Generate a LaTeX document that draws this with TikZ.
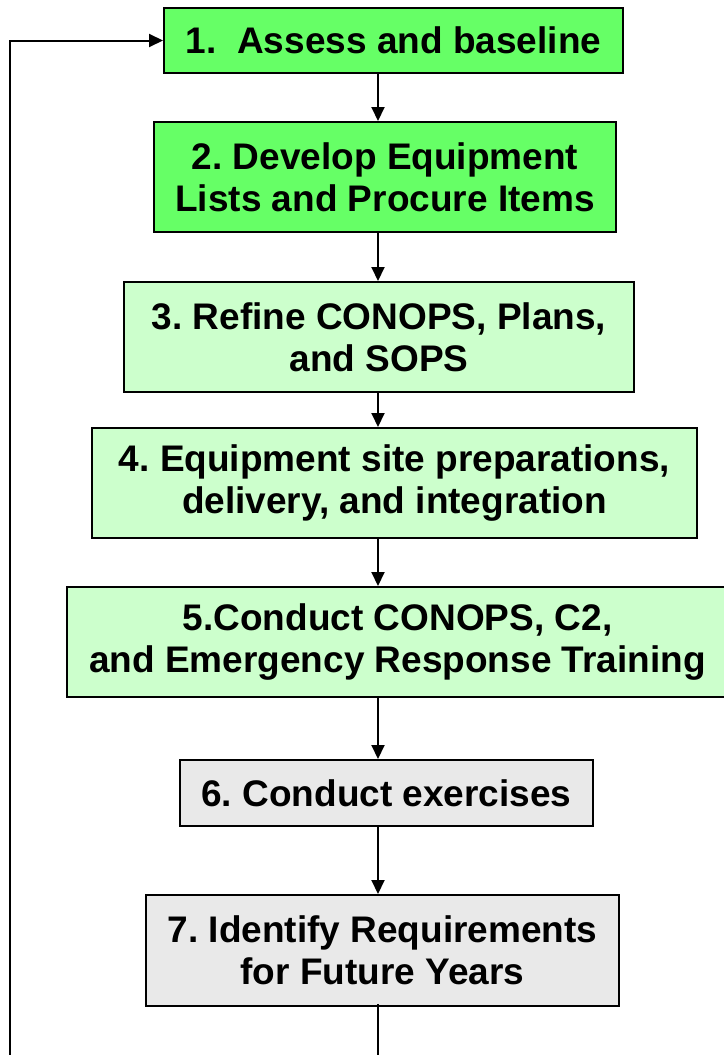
\documentclass[tikz,border=0pt]{standalone}
\usepackage{fontspec}
\setmainfont{Liberation Sans}
\usetikzlibrary{arrows.meta}
\frenchspacing

\definecolor{brightgreen}{HTML}{66FF66}
\definecolor{palegreen}{HTML}{CCFFCC}
\definecolor{palegray}{HTML}{E9E9E9}

\tikzset{
  stepbox/.style={draw=black, line width=2pt, inner sep=0pt, align=center,
    font=\bfseries\fontsize{37}{42}\selectfont},
  flow/.style={line width=2pt, -{Triangle[length=14pt,width=13pt]}},
}

\begin{document}
\begin{tikzpicture}[x=1pt, y=-1pt]
\useasboundingbox (0,0) rectangle (723,1055);
\coordinate (spine) at (378,0);
\node[stepbox, fill=brightgreen, minimum width=459pt, minimum height=65pt] (s1) at (393.5,40.5) {1.\ \ Assess and baseline};
\node[stepbox, fill=brightgreen, minimum width=462pt, minimum height=110pt] (s2) at (385,177) {2. Develop Equipment\\Lists and Procure Items};
\node[stepbox, fill=palegreen, minimum width=510pt, minimum height=110pt] (s3) at (379,337) {3. Refine CONOPS, Plans,\\and SOPS};
\node[stepbox, fill=palegreen, minimum width=605pt, minimum height=110pt] (s4) at (394.5,483) {4. Equipment site preparations,\\delivery, and integration};
\node[stepbox, fill=palegreen, minimum width=661pt, minimum height=110pt] (s5) at (397.5,642) {5.Conduct CONOPS, C2,\\and Emergency Response Training};
\node[stepbox, fill=palegray, minimum width=413pt, minimum height=66pt] (s6) at (386.5,793) {6. Conduct exercises};
\node[stepbox, fill=palegray, minimum width=473pt, minimum height=111pt] (s7) at (382.5,950.5) {7. Identify Requirements\\for Future Years};
% arrows down the column
\foreach \a/\b in {s1/s2, s2/s3, s3/s4, s4/s5, s5/s6, s6/s7}
  \draw[flow] (\a.south -| spine) -- (\b.north -| spine);
% loop back to the start
\coordinate (loopend) at (378,1058);
\coordinate (loopturn) at (10,1058);
\draw[line width=2pt] ([yshift=3pt]s7.south -| spine) -- (loopend);
\draw[flow] (loopturn) |- (s1.west);
\end{tikzpicture}
\end{document}
